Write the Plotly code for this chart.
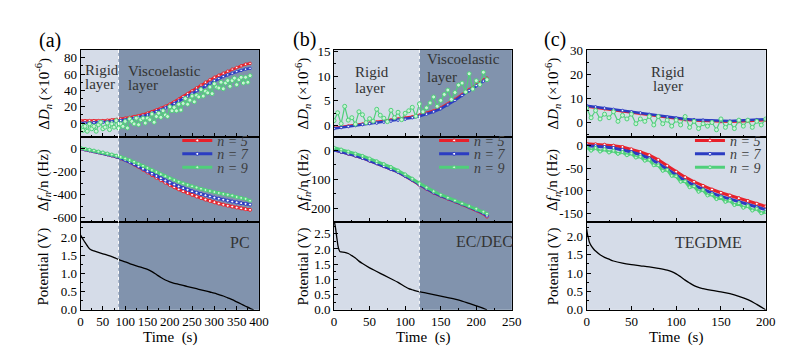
import plotly.graph_objects as go

# ---------------- DATA ----------------
# Panel (a) PC
ta10 = list(range(0, 390, 10))
ta5 = list(range(0, 385, 5))
a_D_n5 = [3, 3, 3, 3, 3, 3, 3.5, 4, 4.5, 5, 6, 7, 8, 9, 10.5, 12, 14, 16, 18, 20.5, 23, 26, 29, 32.5, 36, 39.5, 43, 46.5, 50, 53, 56, 58.5, 61, 63.5, 66, 68, 70, 72, 73]
a_D_n7 = [0, 0, 0.5, 0.5, 1, 1, 1.5, 2, 2.5, 3, 4, 5, 6, 7, 8.5, 10, 12, 14, 16, 18.5, 21, 24, 27, 30, 33, 36.5, 40, 43, 46, 49, 52, 54.5, 57, 59, 61, 63, 64.5, 66, 67]
a_D_n9 = [-2, -9, -4, -10, -1, -7, -4, -10, -2, 1, -7, -5, 0, -8, -1, -5, 3, -6, -1, -4, 2, -6, 5, 2, -1, 6, -2, 4, 6, 0, 6, 4, 11, 1, 8, 12, 7, 15, 10, 8, 20, 15, 19, 15, 23, 16, 24, 30, 23, 28, 33, 26, 34, 32, 41, 33, 39, 37, 44, 36, 48, 44, 43, 50, 42, 49, 52, 45, 52, 55, 47, 53, 56, 49, 56, 50, 58]
a_f_n5 = [0, -8, -16, -24, -32, -40, -50, -60, -70, -85, -100, -118, -138, -160, -183, -207, -230, -253, -275, -296, -316, -335, -353, -370, -386, -401, -415, -429, -442, -454, -465, -476, -486, -495, -503, -511, -518, -525, -531]
a_f_n7 = [0, -8, -16, -24, -32, -40, -50, -60, -70, -84, -99, -116, -135, -155, -176, -197, -218, -238, -258, -277, -295, -312, -328, -343, -357, -370, -382, -394, -405, -415, -425, -434, -443, -451, -459, -466, -473, -479, -485]
a_f_n9 = [5, -3, -10, -18, -26, -34, -43, -52, -62, -73, -86, -100, -115, -132, -150, -168, -186, -204, -222, -240, -257, -273, -288, -302, -315, -327, -338, -349, -359, -368, -377, -385, -393, -400, -407, -420, -428, -436, -452]
ta_V = [0, 5, 10, 15, 20, 25, 30, 40, 50, 60, 70, 80, 90, 100, 110, 120, 130, 140, 150, 160, 170, 180, 190, 200, 210, 220, 230, 240, 250, 260, 270, 280, 290, 300, 310, 320, 330, 340, 350, 360, 370, 380, 388]
a_V = [2.05, 1.95, 1.85, 1.76, 1.68, 1.64, 1.62, 1.58, 1.54, 1.5, 1.46, 1.41, 1.36, 1.32, 1.27, 1.23, 1.19, 1.15, 1.11, 1.05, 0.97, 0.89, 0.82, 0.77, 0.73, 0.70, 0.67, 0.64, 0.61, 0.58, 0.55, 0.52, 0.49, 0.46, 0.42, 0.38, 0.33, 0.28, 0.22, 0.16, 0.1, 0.04, 0.0]

# Panel (b) EC/DEC
tb10 = [0, 10, 20, 30, 40, 50, 60, 70, 80, 90, 100, 110, 120, 130, 140, 150, 160, 170, 180, 190, 200, 210, 215]
tb5 = list(range(0, 220, 5))
b_D_n5 = [-0.5, -0.3, -0.1, 0.1, 0.3, 0.5, 0.7, 0.9, 1.1, 1.3, 1.5, 1.8, 2.1, 2.5, 3.0, 3.6, 4.4, 5.3, 6.3, 7.3, 8.3, 9.2, 9.6]
b_D_n7 = [-0.6, -0.4, -0.2, 0.0, 0.2, 0.4, 0.5, 0.7, 0.9, 1.1, 1.3, 1.6, 1.9, 2.3, 2.8, 3.4, 4.2, 5.1, 6.1, 7.1, 8.1, 9.0, 9.4]
b_D_n9 = [1.0, 2.6, 0.4, 3.9, 1.1, 1.6, 0.3, 2.8, 2.2, 0.6, 1.4, 0.9, 3.3, 2.1, 1.5, 0.8, 3.1, 1.6, 2.7, 1.2, 2.5, 3.0, 3.7, 1.9, 4.4, 2.8, 3.6, 4.6, 5.8, 3.9, 5.1, 6.3, 7.2, 5.3, 6.7, 8.2, 8.6, 6.8, 10.5, 7.4, 9.1, 8.3, 10.8, 9.3]
b_f_n5 = [0, -6, -12, -19, -27, -36, -45, -55, -65, -75, -88, -103, -119, -133, -146, -157, -166, -176, -186, -196, -206, -218, -228]
b_f_n7 = [0, -6, -12, -19, -27, -36, -45, -55, -65, -75, -88, -102, -118, -132, -145, -156, -165, -175, -185, -195, -205, -216, -225]
b_f_n9 = [8, 2, -5, -12, -20, -29, -38, -48, -58, -70, -83, -98, -114, -128, -141, -153, -163, -173, -183, -192, -201, -211, -218]
tb_V = [0, 2, 4, 6, 8, 10, 15, 20, 25, 30, 35, 40, 50, 60, 70, 80, 90, 100, 105, 110, 115, 120, 130, 140, 150, 160, 170, 180, 190, 200, 210, 215]
b_V = [2.95, 2.7, 2.35, 2.05, 1.92, 1.9, 1.89, 1.85, 1.78, 1.7, 1.6, 1.52, 1.38, 1.26, 1.14, 1.02, 0.9, 0.76, 0.7, 0.66, 0.62, 0.6, 0.55, 0.5, 0.45, 0.4, 0.35, 0.29, 0.21, 0.13, 0.05, 0.0]

# Panel (c) TEGDME
tc10 = list(range(0, 210, 10))
tc5 = list(range(0, 205, 5))
c_D_n5 = [6.7, 6.2, 5.7, 5.2, 4.7, 4.2, 3.7, 3.1, 2.5, 2.0, 1.6, 1.2, 0.9, 0.7, 0.5, 0.4, 0.3, 0.4, 0.6, 0.8, 1.0]
c_D_n7 = [7, 6.5, 6, 5.5, 5, 4.5, 4, 3.4, 2.8, 2.3, 1.9, 1.5, 1.2, 1.0, 0.8, 0.7, 0.6, 0.8, 1.0, 1.2, 1.4]
c_D_n9 = [6, 2, 5, 1.5, 3.5, 2, 4.5, 0.5, 3, 1.5, 3.5, -0.5, 1.5, 0.5, 2.5, -1, 2.5, -0.5, 1, -1.5, 1, -1, 2.5, -2, 0.5, -2.5, -0.5, -1.5, 0, -3, 1.5, -2, 0, -2.5, 1, -1.5, 1, -2, 0.5, -1, 1.5]
c_f_n5 = [3, 2, 1, -1, -4, -9, -15, -22, -32, -45, -58, -70, -80, -89, -97, -104, -110, -116, -122, -128, -134]
c_f_n7 = [-1, -2, -4, -6, -10, -15, -21, -29, -40, -53, -66, -78, -88, -97, -105, -112, -118, -124, -130, -136, -141]
c_f_n9 = [-4, -12, -6, -14, -9, -16, -12, -19, -15, -22, -18, -27, -25, -34, -32, -44, -44, -56, -54, -67, -68, -80, -79, -92, -90, -102, -98, -110, -108, -118, -114, -124, -121, -131, -127, -137, -133, -143, -139, -149, -146]
tc_V = [0, 1, 2, 3, 5, 8, 10, 15, 20, 25, 30, 40, 50, 60, 70, 80, 90, 95, 100, 105, 110, 115, 120, 125, 130, 140, 150, 160, 170, 180, 190, 200]
c_V = [2.2, 2.05, 1.95, 1.85, 1.75, 1.65, 1.6, 1.5, 1.43, 1.38, 1.33, 1.27, 1.23, 1.2, 1.17, 1.13, 1.08, 1.04, 0.98, 0.9, 0.81, 0.73, 0.66, 0.61, 0.58, 0.53, 0.49, 0.44, 0.37, 0.28, 0.15, 0.0]

series_names = ["<i>n = 5</i>", "<i>n = 7</i>", "<i>n = 9</i>"]
electrolytes = ["PC", "EC/DEC", "TEGDME"]
x_ranges = [[0, 400], [0, 250], [0, 200]]
x_dticks = [50, 50, 50]
rigid_end = [85, 120, None]

# ---------------- STYLE ----------------
RED, BLUE, GREEN = "#e8212b", "#2b3cc2", "#4fd07a"
LIGHT, DARK = "#d5dce8", "#8193ad"
FONT = "Times New Roman, Liberation Serif, Tinos, DejaVu Serif, serif"
W, H = 812, 355

col_px = [(70.7, 252), (328.3, 509), (585, 767)]
row_px = [(37, 128), (128, 217), (217, 308)]

def xd(p):
    return p / W

def yd(p):
    return 1 - p / H

fig = go.Figure()

panels = [
    dict(D=[(ta10, a_D_n5), (ta10, a_D_n7), (ta5, a_D_n9)],
         f=[(ta10, a_f_n5), (ta10, a_f_n7), (ta10, a_f_n9)],
         V=(ta_V, a_V),
         yr=[[-17, 90], [-640, 100], [0, 2.4]],
         yt=[dict(dtick=20, tick0=0), dict(tickvals=[0, -200, -400, -600], ticktext=["0", "-200", "-400", "-600"]), dict(dtick=0.5, tick0=0)],
         ymin=[10, 100, 0.25]),
    dict(D=[(tb10, b_D_n5), (tb10, b_D_n7), (tb5, b_D_n9)],
         f=[(tb10, b_f_n5), (tb10, b_f_n7), (tb10, b_f_n9)],
         V=(tb_V, b_V),
         yr=[[-2.3, 15.4], [-248, 45], [0, 2.87]],
         yt=[dict(dtick=5, tick0=0), dict(tickvals=[0, -100, -200], ticktext=["0", "-100", "-200"]), dict(dtick=0.5, tick0=0)],
         ymin=[2.5, 50, 0.25]),
    dict(D=[(tc10, c_D_n5), (tc10, c_D_n7), (tc5, c_D_n9)],
         f=[(tc10, c_f_n5), (tc10, c_f_n7), (tc5, c_f_n9)],
         V=(tc_V, c_V),
         yr=[[-6, 30.4], [-169, 18], [0, 2.38]],
         yt=[dict(dtick=10, tick0=0), dict(tickvals=[0, -50, -100, -150], ticktext=["0", "-50", "-100", "-150"]), dict(dtick=0.5, tick0=0)],
         ymin=[5, 25, 0.25]),
]

colors = [RED, BLUE, GREEN]
shapes = []
annotations = []
layout_axes = {}
legend_x = [169, 430, 690]
legend_y = [132, 146, 160]
legends = {}

for c, P in enumerate(panels):
    for r in range(3):
        k = c * 3 + r + 1
        xname = "x" if k == 1 else f"x{k}"
        yname = "y" if k == 1 else f"y{k}"
        xkey = "xaxis" if k == 1 else f"xaxis{k}"
        ykey = "yaxis" if k == 1 else f"yaxis{k}"
        layout_axes[xkey] = dict(
            domain=[xd(col_px[c][0]), xd(col_px[c][1])], anchor=yname,
            range=x_ranges[c], dtick=x_dticks[c], tick0=0,
            showticklabels=(r == 2), ticks="inside", ticklen=4, tickcolor="black",
            minor=dict(ticks="inside", ticklen=2, dtick=25, tickcolor="black"),
            showline=True, linecolor="black", linewidth=1, mirror=True,
            showgrid=False, zeroline=False,
            tickfont=dict(family=FONT, size=13, color="black"))
        layout_axes[ykey] = dict(
            domain=[yd(row_px[r][1]), yd(row_px[r][0])], anchor=xname,
            range=P["yr"][r], ticks="inside", ticklen=4, tickcolor="black",
            minor=dict(ticks="inside", ticklen=2, dtick=P["ymin"][r], tickcolor="black"),
            showline=True, linecolor="black", linewidth=1, mirror=True,
            showgrid=False, zeroline=False,
            tickfont=dict(family=FONT, size=13, color="black"),
            **P["yt"][r])
        if r == 2:
            layout_axes[ykey]["tickformat"] = ".1f"
        if rigid_end[c] is not None:
            shapes.append(dict(type="rect", xref=xname, yref=f"{yname} domain",
                               x0=rigid_end[c], x1=x_ranges[c][1], y0=0, y1=1,
                               fillcolor=DARK, line=dict(width=0), layer="below"))
            shapes.append(dict(type="line", xref=xname, yref=f"{yname} domain",
                               x0=rigid_end[c], x1=rigid_end[c], y0=0, y1=1,
                               line=dict(color="white", width=1, dash="dot"), layer="above"))
        if r == 0:
            for i, (tx, vy) in enumerate(P["D"]):
                if i == 2:
                    fig.add_trace(go.Scatter(x=tx, y=vy, mode="lines+markers", xaxis=xname, yaxis=yname,
                                             line=dict(color=GREEN, width=1.2),
                                             marker=dict(size=4, color="#c9f3d5", line=dict(color=GREEN, width=1)),
                                             showlegend=False))
                else:
                    fig.add_trace(go.Scatter(x=tx, y=vy, mode="lines+markers", xaxis=xname, yaxis=yname,
                                             line=dict(color=colors[i], width=2.5),
                                             marker=dict(size=2.5, color="white", line=dict(color=colors[i], width=1)),
                                             showlegend=False))
        elif r == 1:
            for i, (tx, vy) in enumerate(P["f"]):
                lname = "legend" if (c == 0 and i == 0) else f"legend{c * 3 + i + 1}"
                legends[lname] = dict(x=xd(legend_x[c]), y=yd(legend_y[i]), xanchor="left", yanchor="middle",
                                      bgcolor="rgba(0,0,0,0)", itemwidth=30, borderwidth=0,
                                      font=dict(family=FONT, size=14, color="#3c3c3c"))
                fig.add_trace(go.Scatter(x=tx, y=vy, mode="lines+markers", xaxis=xname, yaxis=yname,
                                         name=series_names[i], legend=lname,
                                         line=dict(color=colors[i], width=3),
                                         marker=dict(size=3, color="white" if i < 2 else "#c9f3d5",
                                                     line=dict(color=colors[i], width=1)),
                                         showlegend=True))
        else:
            tx, vy = P["V"]
            fig.add_trace(go.Scatter(x=tx, y=vy, mode="lines", xaxis=xname, yaxis=yname,
                                     line=dict(color="black", width=1.3, shape="spline"),
                                     showlegend=False))

def ann(x, y, text, size=15, color="#333333", angle=0, xanchor="center"):
    annotations.append(dict(xref="paper", yref="paper", x=xd(x), y=yd(y), text=text,
                            showarrow=False, textangle=angle, xanchor=xanchor, yanchor="middle",
                            font=dict(family=FONT, size=size, color=color)))

ann(40, 28, "(a)", size=20, color="black")
ann(298, 27, "(b)", size=20, color="black")
ann(553, 27, "(c)", size=20, color="black")

ann(73, 58, "Rigid", xanchor="left")
ann(73, 73, "layer", xanchor="left")
ann(117, 59, "Viscoelastic", xanchor="left")
ann(117, 74, "layer", xanchor="left")
ann(348, 60, "Rigid", xanchor="left")
ann(348, 77, "layer", xanchor="left")
ann(421, 47, "Viscoelastic", xanchor="left")
ann(421, 66, "layer", xanchor="left")
ann(668, 60, "Rigid")
ann(668, 75, "layer")

ann(233, 238, electrolytes[0], size=16)
ann(481, 237, electrolytes[1], size=16)
ann(709, 238, electrolytes[2], size=16)

ytitles = ["Δ<i>D</i><sub><i>n</i></sub> (×10<sup>-6</sup>)", "Δ<i>f</i><sub><i>n</i></sub>/n (Hz)", "Potential (V)"]
ytitle_x = [33, 297, 551]
for c in range(3):
    for r in range(3):
        ann(ytitle_x[c], (row_px[r][0] + row_px[r][1]) / 2, ytitles[r], size=15, color="black", angle=-90)
    ann((col_px[c][0] + col_px[c][1]) / 2, 337, "Time  (s)", size=15, color="black")

fig.update_layout(width=W, height=H, margin=dict(l=0, r=0, t=0, b=0),
                  paper_bgcolor="white", plot_bgcolor=LIGHT,
                  shapes=shapes, annotations=annotations, **layout_axes, **legends)

fig.write_html("out.html")
